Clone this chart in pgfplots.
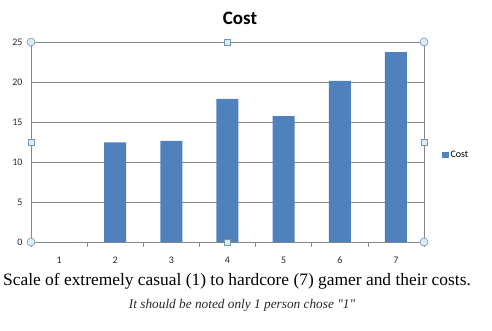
\documentclass[border=0pt]{standalone}
\usepackage{pgfplots}
\pgfplotsset{compat=1.18}
\usepackage{fontspec}
\setmainfont{Liberation Serif}
\newfontfamily\notefont{Liberation Serif}[Ligatures=TeXOff]
\newfontfamily\calibri{Carlito}
\definecolor{barblue}{RGB}{79,129,189}
\definecolor{gridgray}{RGB}{134,134,134}
\definecolor{handlefill}{RGB}{220,236,245}
\definecolor{handledraw}{RGB}{120,150,170}
\tikzset{hc/.style={circle, draw=handledraw, fill=handlefill, inner sep=0pt, minimum size=8pt, line width=0.6pt},
  hs/.style={rectangle, draw=handledraw, fill=handlefill, inner sep=0pt, minimum size=6pt, line width=0.6pt}}
\begin{document}
\begin{tikzpicture}
\path[use as bounding box] (0,0) rectangle (492pt,330pt);
\begin{axis}[
  at={(31pt,88pt)}, anchor=south west,
  scale only axis, width=393pt, height=200pt,
  xmin=0.5, xmax=7.5, ymin=0, ymax=25,
  /pgf/number format/assume math mode=true,
  xtick={1,...,7}, major x tick style={draw=none},
  minor xtick={0.5,1.5,...,7.5},
  minor x tick style={gridgray, line width=0.5pt},
  minor tick length=5pt,
  xtick pos=bottom,
  x tick label style={yshift=-7pt},
  xtick align=outside,
  ytick={0,5,...,25},
  major y tick style={draw=none},
  ymajorgrids, grid style={gridgray, line width=0.6pt},
  axis line style={gridgray, line width=0.6pt},
  tick label style={font=\calibri\fontsize{10}{11}\selectfont, color=black!85},
  y tick label style={xshift=-5pt},
  ybar, bar width=22pt,
  legend style={at={(1.046,0.435)}, anchor=west, draw=none, fill=none,
    font=\calibri\fontsize{10}{11}\selectfont, inner sep=0pt, outer sep=0pt},
  legend image code/.code={\fill[barblue] (0pt,-3pt) rectangle (6.5pt,3pt);},
  clip=false,
]
\addplot[fill=barblue, draw=none] coordinates {(1,0) (2,12.45) (3,12.65) (4,17.9) (5,15.75) (6,20.15) (7,23.75)};
\legend{Cost}
\node[hc] at (rel axis cs:0,0) {};
\node[hc] at (rel axis cs:1,0) {};
\node[hc] at (rel axis cs:0,1) {};
\node[hc] at (rel axis cs:1,1) {};
\node[hs] at (rel axis cs:0.5,0) {};
\node[hs] at (rel axis cs:0.5,1) {};
\node[hs] at (rel axis cs:0,0.5) {};
\node[hs] at (rel axis cs:1,0.5) {};
\end{axis}
\node[font=\calibri\bfseries\fontsize{19}{21}\selectfont] at (240pt,312pt) {Cost};
\node[font=\fontsize{17.4}{19}\selectfont] at (237pt,48.5pt) {Scale of extremely casual (1) to hardcore (7) gamer and their costs.};
\node[font=\notefont\itshape\fontsize{13.3}{15}\selectfont, color=black!85] at (242pt,24.5pt) {It should be noted only 1 person chose "1"};
\end{tikzpicture}
\end{document}
